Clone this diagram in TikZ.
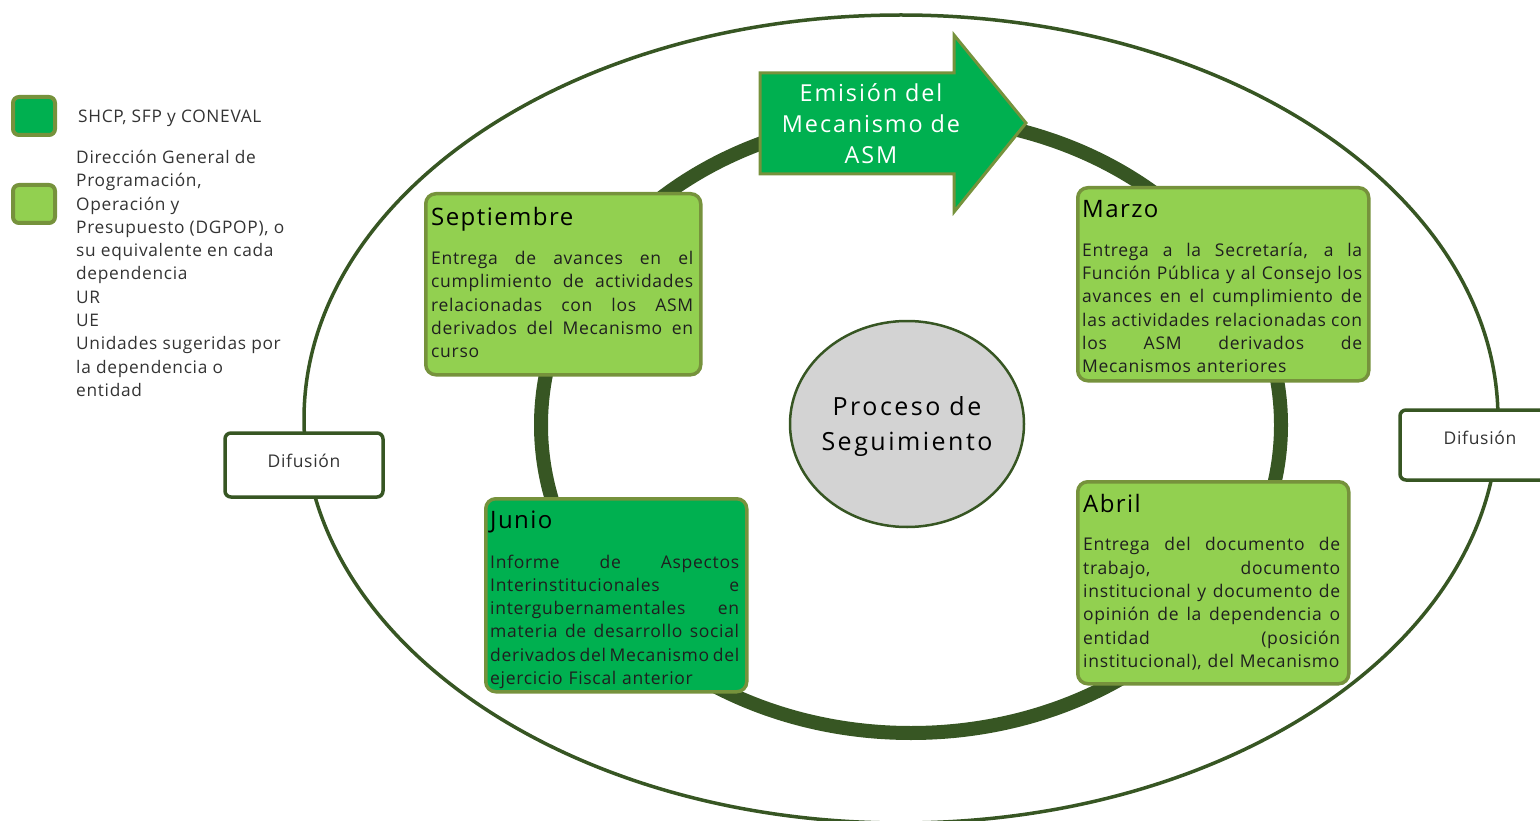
\documentclass[tikz,border=0pt]{standalone}
\usepackage{fontspec}
\setmainfont{Open Sans}[LetterSpace=4]
\newfontfamily\headfont{Open Sans}[LetterSpace=6]
\newfontfamily\bigfont{Open Sans}[LetterSpace=8]
\newfontfamily\procfont{Open Sans}[LetterSpace=10]
\usetikzlibrary{positioning,shapes.geometric}
\definecolor{ringgreen}{HTML}{375623}
\definecolor{boxborder}{HTML}{76923C}
\definecolor{darkgreen}{HTML}{00B050}
\definecolor{lightgreen}{HTML}{92D050}
\definecolor{centergray}{HTML}{D3D3D3}
% one justified line of a box text
\newcommand\jl[1]{\makebox[\hsize][s]{\spaceskip=\fontdimen2\font plus 1fil minus \fontdimen4\font
  \xspaceskip=\spaceskip #1}}
\hbadness=10000
\hfuzz=30pt
\begin{document}
\begin{tikzpicture}[x=1pt, y=-1pt,
    month box/.style={draw=boxborder, line width=3.5pt, rounded corners=10pt,
                      anchor=north west, inner sep=0pt},
    month title/.style={anchor=base west, inner sep=0pt,
                        font=\headfont\fontsize{24}{28}\selectfont},
    month text/.style={anchor=north west, inner sep=0pt, align=left,
                       text=black!88, font=\fontsize{17.5}{23.3}\selectfont},
    legend box/.style={draw=boxborder, line width=4pt, rounded corners=6pt,
                       anchor=north west, minimum width=42pt, minimum height=38pt},
    legend text/.style={inner sep=0pt, align=left, text=black!80,
                        font=\fontsize{17.3}{23.3}\selectfont},
    diff box/.style={draw=ringgreen, line width=3.5pt, rounded corners=6pt, fill=white,
                     text=black!80, font=\fontsize{17.5}{20}\selectfont}]

  \useasboundingbox (0,0) rectangle (1540,821);

  % the two rings
  \draw[ringgreen, line width=3.5pt] (901,419) ellipse [x radius=597, y radius=404];
  \draw[ringgreen, line width=14pt] (911,425) ellipse [x radius=370, y radius=308];

  % arrow
  \draw[fill=darkgreen, draw=boxborder, line width=3pt]
    (760,73) -- (954,73) -- (954,35) -- (1026,123) -- (954,212) -- (954,174) -- (760,174) -- cycle;
  \node[align=center, text=white, font=\bigfont\fontsize{23.4}{31}\selectfont] (emision)
    at (871,124) {Emisión del\\Mecanismo de\\ASM};

  % centre
  \node[ellipse, draw=ringgreen, line width=2.5pt, fill=centergray, minimum width=234pt,
        minimum height=206pt] (proc) at (907,424) {};
  \node[align=center, font=\procfont\fontsize{25}{35}\selectfont] (procT)
    at (907,427) {Proceso de\\Seguimiento};

  % Septiembre
  \node[month box, fill=lightgreen, minimum width=275pt, minimum height=181pt] (sep) at (424,192) {};
  \node[month title] (sepT) at ([shift={(7,34)}]sep.north west) {Septiembre};
  \node[month text, text width=262pt] (sepB) at ([shift={(7,59)}]sep.north west) {%
    \jl{Entrega de avances en el}\\%
    \jl{cumplimiento de actividades}\\%
    \jl{relacionadas con los ASM}\\%
    \jl{derivados del Mecanismo en}\\%
    curso};

  % Marzo
  \node[month box, fill=lightgreen, minimum width=291pt, minimum height=193pt] (mar) at (1076,186) {};
  \node[month title] (marT) at ([shift={(6,31.5)}]mar.north west) {Marzo};
  \node[month text, text width=280pt] (marB) at ([shift={(6,56.5)}]mar.north west) {%
    \jl{Entrega a la Secretaría, a la}\\%
    \jl{Función Pública y al Consejo los}\\%
    \jl{avances en el cumplimiento de}\\%
    \jl{las actividades relacionadas con}\\%
    \jl{los ASM derivados de}\\%
    Mecanismos anteriores};

  % Junio
  \node[month box, fill=darkgreen, minimum width=261pt, minimum height=193pt] (jun) at (484,497) {};
  \node[month title] (junT) at ([shift={(6,31.5)}]jun.north west) {Junio};
  \node[month text, text width=249pt] (junB) at ([shift={(6,57.5)}]jun.north west) {%
    \jl{Informe de Aspectos}\\%
    \jl{Interinstitucionales e}\\%
    \jl{intergubernamentales en}\\%
    \jl{materia de desarrollo social}\\%
    \jl{derivados del Mecanismo del}\\%
    ejercicio Fiscal anterior};

  % Abril
  \node[month box, fill=lightgreen, minimum width=271pt, minimum height=202pt] (abr) at (1076,480) {};
  \node[month title] (abrT) at ([shift={(7,32.5)}]abr.north west) {Abril};
  \node[month text, text width=257pt] (abrB) at ([shift={(7,57.5)}]abr.north west) {%
    \jl{Entrega del documento de}\\%
    \jl{trabajo, documento}\\%
    \jl{institucional y documento de}\\%
    \jl{opinión de la dependencia o}\\%
    \jl{entidad (posición}\\%
    institucional), del Mecanismo};

  % Difusion
  \node[diff box, minimum width=158pt, minimum height=64pt, text depth=8pt] (difL) at (304,465) {Difusión};
  \node[diff box, minimum width=160pt, minimum height=70pt, text depth=14pt] (difR) at (1480,445) {Difusión};

  % legend
  \node[legend box, fill=darkgreen] (keyA) at (11,95) {};
  \node[legend text, anchor=west] (keyAT) at (78,118) {SHCP, SFP y CONEVAL};
  \node[legend box, fill=lightgreen] (keyB) at (11,183) {};
  \node[legend text, anchor=north west] (keyBT) at (76,150) {Dirección General de\\
    Programación,\\Operación y\\Presupuesto (DGPOP), o\\su equivalente en cada\\
    dependencia\\UR\\UE\\Unidades sugeridas por\\la dependencia o\\entidad};

\end{tikzpicture}
\end{document}
